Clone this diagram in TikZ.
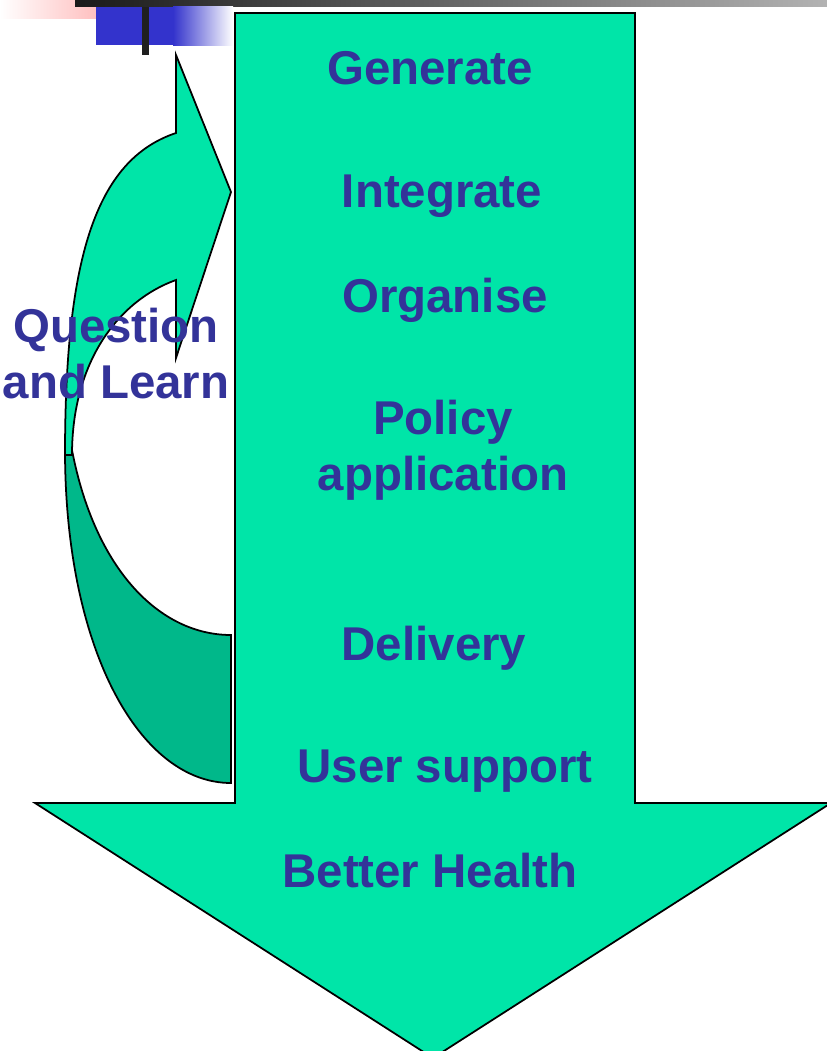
\documentclass[tikz,border=0pt]{standalone}
\usepackage{fontspec}
\setmainfont{Liberation Sans}
\usepackage{xcolor}
\usepackage{tikz}

\definecolor{arrowgreen}{RGB}{0,229,168}
\definecolor{backgreen}{RGB}{0,184,138}
\definecolor{labelblue}{RGB}{51,51,153}
\definecolor{barblue}{RGB}{51,51,204}
\definecolor{barpink}{RGB}{255,172,172}

\begin{document}
\begin{tikzpicture}[x=0.02cm, y=-0.02cm,
    every node/.style={text=labelblue, font=\fontsize{27}{31.5}\selectfont\bfseries,
                       inner sep=0pt, anchor=base, align=center},
    shape line/.style={draw=black, line width=1pt, line join=miter}]
   \clip (0,0) rectangle (827,1051);

   % title bar bits
   \shade[left color=white, right color=barpink] (0,0) rectangle (127,19);
   \shade[left color=black!90, right color=black!30] (75,0) rectangle (827,7);
   \fill[barblue] (96,7) rectangle (173,45);
   \shade[left color=barblue, right color=white] (173,7) rectangle (233,46);
   \fill[black!88] (142,7) rectangle (149,55);

   % big down arrow
   \draw[shape line, fill=arrowgreen] (235,13) -- (635,13) -- (635,803) -- (831,803)
        -- (433,1058) -- (35,803) -- (235,803) -- cycle;

   % curved arrow, back part
   \draw[shape line, fill=backgreen] (231,783) .. controls (140,783) and (65,650) .. (65,450)
        -- (72,450) .. controls (95,570) and (160,635) .. (231,635) -- cycle;
   % curved arrow, front part
   \draw[shape line, fill=arrowgreen] (65,455) .. controls (65,260) and (95,160) .. (176,133)
        -- (176,55) -- (231,192) -- (176,358) -- (176,280)
        .. controls (120,300) and (72,360) .. (72,455) -- cycle;

   \node (gen) at (430,85) {Generate};
   \node (integ) at (442,207) {Integrate};
   \node (org) at (445,312) {Organise};
   \node (policy) at (443,490) {Policy\\application};
   \node (deliv) at (434,660) {Delivery};
   \node (support) at (445,782) {User support};
   \node (health) at (430,887) {Better Health};
   \node (question) at (116,398) {Question\\and Learn};
\end{tikzpicture}
\end{document}
